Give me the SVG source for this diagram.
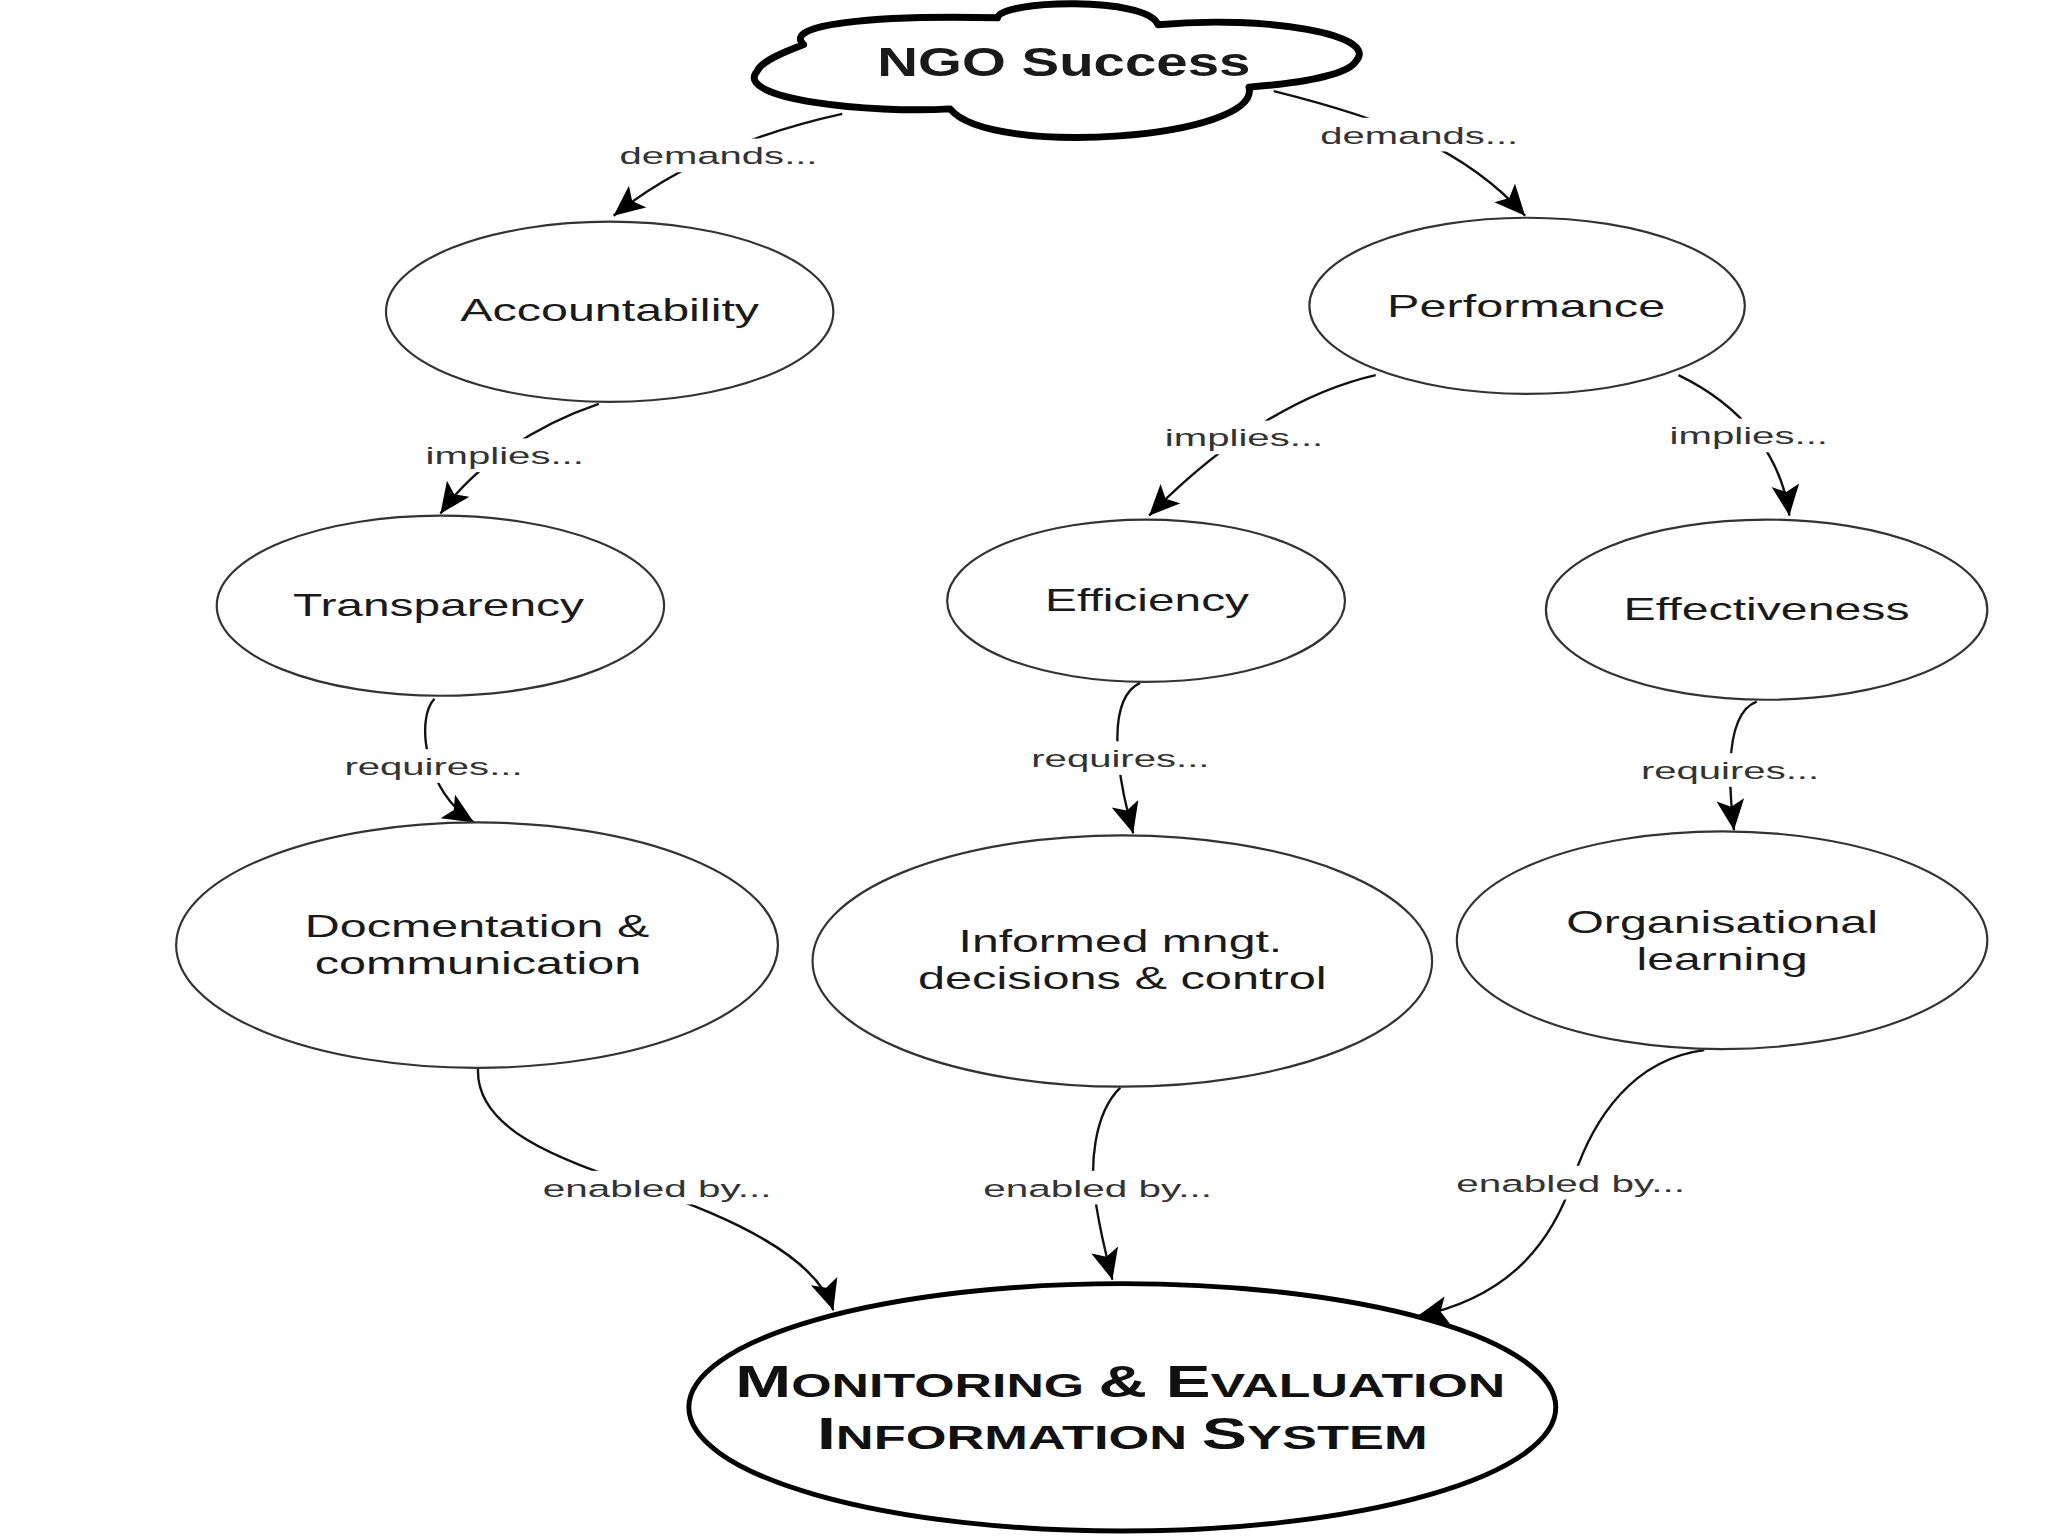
<svg xmlns="http://www.w3.org/2000/svg" width="2048" height="1536" viewBox="0 0 2048 1536">
<style>
.node{fill:#fff;stroke:#333;stroke-width:2.2}
.t{font-family:"Liberation Sans",Arial,sans-serif;fill:#1a1a1a;text-anchor:middle;font-size:31px}
.lbl{font-family:"Liberation Sans",Arial,sans-serif;fill:#333;text-anchor:middle;font-size:25px}
.conn{fill:none;stroke:#111;stroke-width:2.4}
.bg{fill:#fff}
.me{font-family:"Liberation Sans",Arial,sans-serif;font-weight:bold;fill:#111;text-anchor:middle}
</style>
<defs>
<marker id="arr" markerUnits="userSpaceOnUse" markerWidth="36" markerHeight="30" refX="31" refY="14" orient="auto">
<path d="M0,0 L31,14 L0,28 L7,14 z" fill="#000"/>
</marker>
</defs>
<rect width="2048" height="1536" fill="#fff"/>
<g transform="scale(0.9897)">
<g id="connectors">
<path class="conn" d="M 851 115 C 760 135, 680 170, 620 218" marker-end="url(#arr)"/>
<path class="conn" d="M 1287 92 C 1400 120, 1480 150, 1541 218" marker-end="url(#arr)"/>
<path class="conn" d="M 605 408 C 540 430, 480 470, 445 519" marker-end="url(#arr)"/>
<path class="conn" d="M 1390 379 C 1320 395, 1240 440, 1161 521" marker-end="url(#arr)"/>
<path class="conn" d="M 1696 379 C 1760 410, 1800 460, 1808 521" marker-end="url(#arr)"/>
<path class="conn" d="M 439 706 C 420 725, 428 800, 479 831" marker-end="url(#arr)"/>
<path class="conn" d="M 1152 690 C 1120 705, 1125 770, 1145 842" marker-end="url(#arr)"/>
<path class="conn" d="M 1775 709 C 1745 720, 1745 780, 1752 839" marker-end="url(#arr)"/>
<path class="conn" d="M 483 1079 C 480 1140, 560 1170, 650 1200 C 740 1230, 825 1270, 842 1324" marker-end="url(#arr)"/>
<path class="conn" d="M 1132 1099 C 1105 1125, 1100 1180, 1108 1220 C 1112 1245, 1118 1270, 1124 1293" marker-end="url(#arr)"/>
<path class="conn" d="M 1722 1061 C 1650 1070, 1610 1130, 1590 1190 C 1570 1250, 1530 1310, 1432 1330" marker-end="url(#arr)"/>
<rect class="bg" x="620" y="140" width="212" height="34"/>
<text class="lbl" x="726" y="166" textLength="200" lengthAdjust="spacingAndGlyphs">demands...</text>
<rect class="bg" x="1328" y="119" width="212" height="34"/>
<text class="lbl" x="1434" y="145" textLength="200" lengthAdjust="spacingAndGlyphs">demands...</text>
<rect class="bg" x="424" y="443" width="172" height="34"/>
<text class="lbl" x="510" y="469" textLength="160" lengthAdjust="spacingAndGlyphs">implies...</text>
<rect class="bg" x="1171" y="425" width="172" height="34"/>
<text class="lbl" x="1257" y="451" textLength="160" lengthAdjust="spacingAndGlyphs">implies...</text>
<rect class="bg" x="1681" y="423" width="172" height="34"/>
<text class="lbl" x="1767" y="449" textLength="160" lengthAdjust="spacingAndGlyphs">implies...</text>
<rect class="bg" x="342" y="757" width="192" height="34"/>
<text class="lbl" x="438" y="783" textLength="180" lengthAdjust="spacingAndGlyphs">requires...</text>
<rect class="bg" x="1036" y="749" width="192" height="34"/>
<text class="lbl" x="1132" y="775" textLength="180" lengthAdjust="spacingAndGlyphs">requires...</text>
<rect class="bg" x="1652" y="761" width="192" height="34"/>
<text class="lbl" x="1748" y="787" textLength="180" lengthAdjust="spacingAndGlyphs">requires...</text>
<rect class="bg" x="543" y="1183" width="243" height="34"/>
<text class="lbl" x="664" y="1209" textLength="231" lengthAdjust="spacingAndGlyphs">enabled by...</text>
<rect class="bg" x="988" y="1183" width="243" height="34"/>
<text class="lbl" x="1109" y="1209" textLength="231" lengthAdjust="spacingAndGlyphs">enabled by...</text>
<rect class="bg" x="1465" y="1178" width="243" height="34"/>
<text class="lbl" x="1587" y="1204" textLength="231" lengthAdjust="spacingAndGlyphs">enabled by...</text>
</g>
<g id="ngo-success">
<path d="M 812 45 C 790 25, 880 15, 1008 18 C 1010 0, 1160 -4, 1170 25 C 1280 15, 1395 35, 1370 62 C 1360 78, 1300 85, 1262 88 C 1275 140, 1000 160, 960 110 C 880 115, 740 100, 765 72 C 770 60, 800 50, 812 45 Z" fill="#fff" stroke="#000" stroke-width="7" stroke-linejoin="round"/>
<text class="t" x="1075" y="77" style="font-size:42px;font-weight:bold" textLength="377" lengthAdjust="spacingAndGlyphs">NGO Success</text>
</g>
<g id="accountability">
<ellipse class="node" cx="616" cy="315" rx="226" ry="91"/>
<text class="t" x="616" y="324" textLength="302" lengthAdjust="spacingAndGlyphs">Accountability</text>
</g>
<g id="performance">
<ellipse class="node" cx="1543" cy="309" rx="220" ry="89"/>
<text class="t" x="1542" y="320" textLength="281" lengthAdjust="spacingAndGlyphs">Performance</text>
</g>
<g id="transparency">
<ellipse class="node" cx="445" cy="612" rx="226" ry="91"/>
<text class="t" x="443" y="622" textLength="294" lengthAdjust="spacingAndGlyphs">Transparency</text>
</g>
<g id="efficiency">
<ellipse class="node" cx="1158" cy="607" rx="201" ry="82"/>
<text class="t" x="1159" y="617" textLength="206" lengthAdjust="spacingAndGlyphs">Efficiency</text>
</g>
<g id="effectiveness">
<ellipse class="node" cx="1785" cy="616" rx="223" ry="91"/>
<text class="t" x="1785" y="626" textLength="289" lengthAdjust="spacingAndGlyphs">Effectiveness</text>
</g>
<g id="documentation">
<ellipse class="node" cx="482" cy="955" rx="304" ry="124"/>
<text class="t" x="482" y="947" textLength="348" lengthAdjust="spacingAndGlyphs">Docmentation &amp;</text>
<text class="t" x="483" y="984" textLength="330" lengthAdjust="spacingAndGlyphs">communication</text>
</g>
<g id="informed">
<ellipse class="node" cx="1134" cy="971" rx="313" ry="127"/>
<text class="t" x="1132" y="962" textLength="327" lengthAdjust="spacingAndGlyphs">Informed mngt.</text>
<text class="t" x="1134" y="999" textLength="413" lengthAdjust="spacingAndGlyphs">decisions &amp; control</text>
</g>
<g id="organisational">
<ellipse class="node" cx="1740" cy="950" rx="268" ry="110"/>
<text class="t" x="1740" y="943" textLength="315" lengthAdjust="spacingAndGlyphs">Organisational</text>
<text class="t" x="1740" y="980" textLength="173" lengthAdjust="spacingAndGlyphs">learning</text>
</g>
<g id="me-system">
<ellipse cx="1134" cy="1422" rx="438" ry="125" fill="#fff" stroke="#000" stroke-width="5"/>
<text class="me" x="1132" y="1412" textLength="778" lengthAdjust="spacingAndGlyphs"><tspan style="font-size:44px">M</tspan><tspan style="font-size:34px">ONITORING </tspan><tspan style="font-size:44px">&amp; E</tspan><tspan style="font-size:34px">VALUATION</tspan></text>
<text class="me" x="1134" y="1464" textLength="617" lengthAdjust="spacingAndGlyphs"><tspan style="font-size:44px">I</tspan><tspan style="font-size:34px">NFORMATION </tspan><tspan style="font-size:44px">S</tspan><tspan style="font-size:34px">YSTEM</tspan></text>
</g>
</g>
</svg>
